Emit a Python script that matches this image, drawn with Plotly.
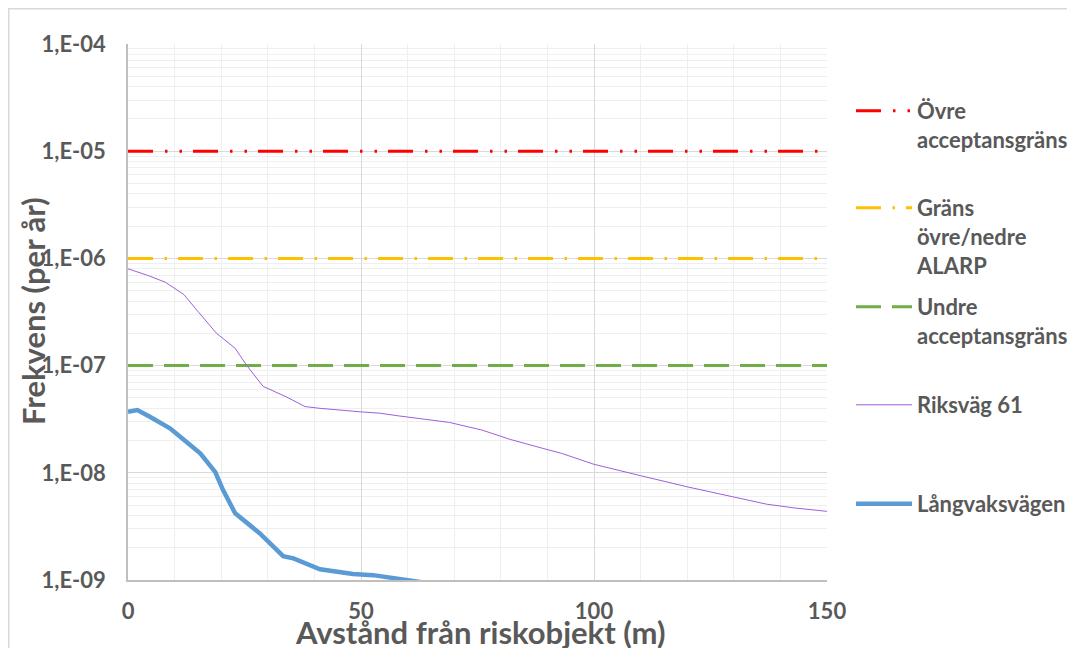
import plotly.graph_objects as go

# ---- data ----
limit_x = [0, 150]
ovre_limit = [1e-5, 1e-5]
alarp_limit = [1e-6, 1e-6]
undre_limit = [1e-7, 1e-7]

rv61_x = [0, 4, 8, 12, 15, 19, 23, 25.5, 29, 34, 38, 41, 50, 54, 58, 69, 76, 82,
          89, 93, 100, 103, 110, 120, 130, 137, 143, 150]
rv61_y = [8.0e-7, 7.0e-7, 6.0e-7, 4.6e-7, 3.2e-7, 2.0e-7, 1.45e-7, 1.0e-7, 6.4e-8,
          5.1e-8, 4.15e-8, 4.0e-8, 3.7e-8, 3.6e-8, 3.4e-8, 2.95e-8, 2.5e-8, 2.05e-8,
          1.69e-8, 1.52e-8, 1.2e-8, 1.12e-8, 9.4e-9, 7.4e-9, 6.0e-9, 5.1e-9, 4.7e-9, 4.37e-9]

lv_x = [0, 2, 4.7, 9, 11.2, 15.5, 18.7, 20.4, 23, 28.3, 33.3, 35.5, 41.2, 44.8,
        48.3, 52.6, 57.7, 60.5, 64.8, 70]
lv_y = [3.7e-8, 3.85e-8, 3.33e-8, 2.6e-8, 2.17e-8, 1.52e-8, 1.02e-8, 6.9e-9, 4.19e-9,
        2.72e-9, 1.67e-9, 1.59e-9, 1.26e-9, 1.2e-9, 1.14e-9, 1.11e-9, 1.04e-9, 1.0e-9,
        9.3e-10, 8.5e-10]

y_tickvals = [1e-9, 1e-8, 1e-7, 1e-6, 1e-5, 1e-4]
y_ticktext = ["1,E-09", "1,E-08", "1,E-07", "1,E-06", "1,E-05", "1,E-04"]
x_tickvals = [0, 50, 100, 150]
x_ticktext = ["0", "50", "100", "150"]

names = ["Övre<br>acceptansgräns", "Gräns<br>övre/nedre<br>ALARP",
         "Undre<br>acceptansgräns", "Riksväg 61", "Långvaksvägen"]

# ---- layout geometry (page pixels; the page body has an 8px margin) ----
OFF = 8
W, H = 1075 - OFF, 648 - OFF
L, T = 128 - OFF, 44 - OFF
pw, ph = 827 - 128, 580 - 44
R, B = W - L - pw, H - T - ph


def px_x(p):  # page x -> paper
    return (p - OFF - L) / pw


def px_y(p):  # page y -> paper
    return (H - B - (p - OFF)) / ph


GREY = "#595959"
FONT = "Lato"

fig = go.Figure()
fig.add_trace(go.Scatter(x=limit_x, y=ovre_limit, mode="lines", name=names[0],
                         line=dict(color="#FF0000", width=3, dash="25px,12px,2.5px,12px,2.5px,11px"),
                         legend="legend"))
fig.add_trace(go.Scatter(x=limit_x, y=alarp_limit, mode="lines", name=names[1],
                         line=dict(color="#FFC000", width=3, dash="25px,11.5px,2.5px,11px"),
                         legend="legend2"))
fig.add_trace(go.Scatter(x=limit_x, y=undre_limit, mode="lines", name=names[2],
                         line=dict(color="#70AD47", width=3, dash="25px,11px"),
                         legend="legend3"))
fig.add_trace(go.Scatter(x=rv61_x, y=rv61_y, mode="lines", name=names[3],
                         line=dict(color="#A05FDC", width=1),
                         legend="legend4"))
fig.add_trace(go.Scatter(x=lv_x, y=lv_y, mode="lines", name=names[4],
                         line=dict(color="#5B9BD5", width=4.5),
                         legend="legend5"))

legend_centers = [111, 208, 307, 405, 504]
leg_font = dict(family=FONT, size=22, color=GREY, weight="bold")
legend_kw = {}
for i, c in enumerate(legend_centers):
    key = "legend" if i == 0 else f"legend{i+1}"
    legend_kw[key] = dict(x=px_x(851), y=px_y(c - 21), xanchor="left", yanchor="top",
                          font=leg_font, valign="top", bgcolor="rgba(0,0,0,0)",
                          borderwidth=0, itemclick=False, itemwidth=56)

tick_font = dict(family=FONT, size=22, color=GREY, weight="bold")
title_font = dict(family=FONT, size=31, color=GREY, weight="bold")

fig.update_layout(
    width=W, height=H,
    margin=dict(l=L, r=R, t=T, b=B, autoexpand=False),
    paper_bgcolor="white", plot_bgcolor="white",
    showlegend=True,
    font=dict(family=FONT, color=GREY),
    xaxis=dict(range=[0, 150], tickvals=x_tickvals, ticktext=x_ticktext,
               showgrid=True, gridcolor="#d9d9d9", gridwidth=1,
               minor=dict(dtick=10, showgrid=True, gridcolor="#efefef", gridwidth=1),
               showline=True, linecolor="#bfbfbf", linewidth=1.5,
               zeroline=False, ticks="", ticklabelstandoff=11,
               tickfont=tick_font),
    yaxis=dict(type="log", range=[-9, -4], tickvals=y_tickvals, ticktext=y_ticktext,
               showgrid=True, gridcolor="#d9d9d9", gridwidth=1,
               minor=dict(tickvals=[m * 10.0 ** e for e in range(-9, -4) for m in range(2, 10)],
                          showgrid=True, gridcolor="#efefef", gridwidth=1),
               showline=True, linecolor="#bfbfbf", linewidth=1.5,
               zeroline=False, ticks="", ticklabelstandoff=16,
               tickfont=tick_font),
    annotations=[
        dict(text="Frekvens (per år)", xref="paper", yref="paper",
             x=px_x(33), y=px_y(311), xanchor="center", yanchor="middle",
             textangle=-90, showarrow=False, font=title_font),
        dict(text="Avstånd från riskobjekt (m)", xref="paper", yref="paper",
             x=px_x(480), y=px_y(632), xanchor="center", yanchor="middle",
             showarrow=False, font=title_font),
    ],
    shapes=[dict(type="rect", xref="paper", yref="paper",
                 x0=px_x(8.75), x1=px_x(1100), y0=px_y(700), y1=px_y(8.75),
                 line=dict(color="#d9d9d9", width=1.5), layer="below")],
    **legend_kw,
)

fig.write_html("out.html")
